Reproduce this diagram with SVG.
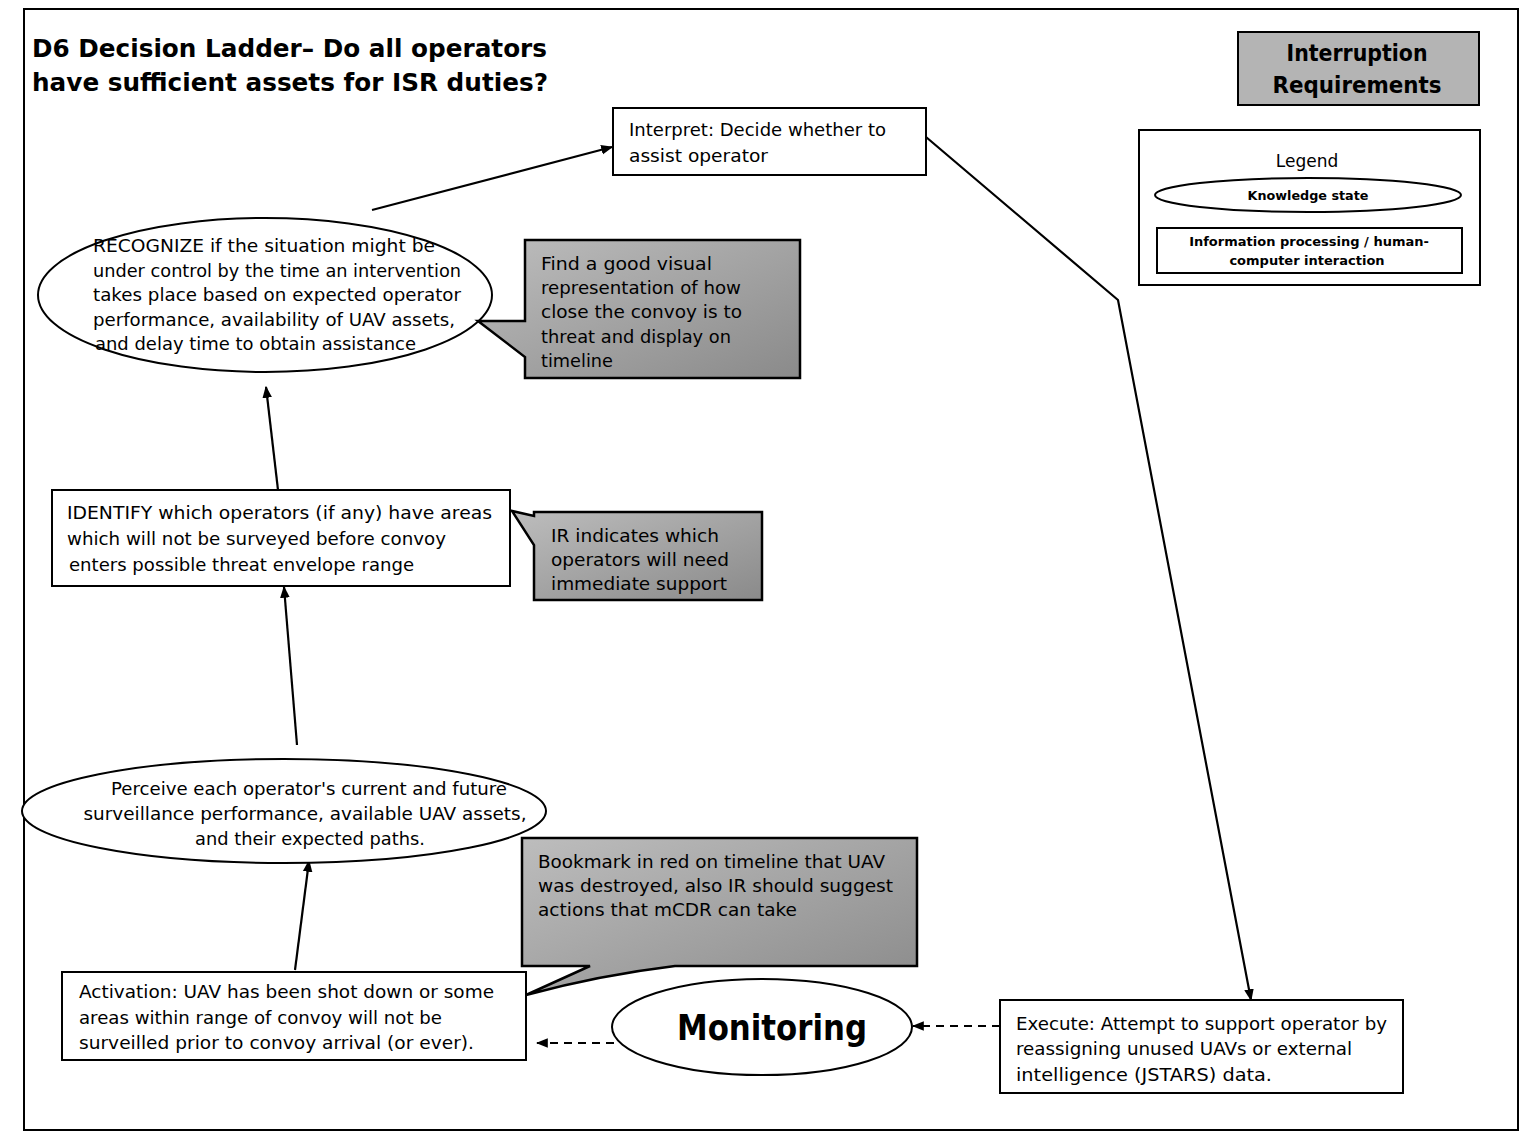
<svg xmlns="http://www.w3.org/2000/svg" width="1529" height="1134" viewBox="0 0 1529 1134">
<defs>
<linearGradient id="shade" x1="0" y1="0" x2="1" y2="1">
<stop offset="0" stop-color="#bdbdbd"/>
<stop offset="1" stop-color="#8a8a8a"/>
</linearGradient>
<marker id="arrL" viewBox="0 0 10 10" refX="9" refY="5" markerWidth="12" markerHeight="12" markerUnits="userSpaceOnUse" orient="auto">
<path d="M0,1 L10,5 L0,9 z" fill="#000"/>
</marker>
<style>
.box{fill:#fff;stroke:#000;stroke-width:2}
.call{fill:url(#shade);stroke:#000;stroke-width:2.5}
.t{font-family:"DejaVu Sans","Liberation Sans",sans-serif;font-size:17px;fill:#000}
.tc{text-anchor:middle}
.title{font-family:"DejaVu Sans","Liberation Sans",sans-serif;font-size:25px;font-weight:bold;fill:#000}
.bold{font-family:"DejaVu Sans","Liberation Sans",sans-serif;font-weight:bold;fill:#000}
.edge{stroke:#000;stroke-width:2.2;fill:none;marker-end:url(#arrL)}
.dash{stroke:#000;stroke-width:2;fill:none;stroke-dasharray:8,6;marker-end:url(#arrL)}
</style>
</defs>
<rect width="1529" height="1134" fill="#fff"/>
<rect x="24" y="9" width="1494" height="1121" fill="none" stroke="#000" stroke-width="2"/>

<g id="title">
<text class="title" x="32" y="57" textLength="515" lengthAdjust="spacingAndGlyphs">D6 Decision Ladder– Do all operators</text>
<text class="title" x="32" y="91" textLength="516" lengthAdjust="spacingAndGlyphs">have sufficient assets for ISR duties?</text>
</g>

<g id="interruption-requirements">
<rect x="1238" y="32" width="241" height="73" fill="#b4b4b4" stroke="#000" stroke-width="2"/>
<text class="bold tc" x="1357" y="61" font-size="23" textLength="141" lengthAdjust="spacingAndGlyphs">Interruption</text>
<text class="bold tc" x="1357" y="93" font-size="23" textLength="169" lengthAdjust="spacingAndGlyphs">Requirements</text>
</g>

<g id="legend">
<rect x="1139" y="130" width="341" height="155" fill="#fff" stroke="#000" stroke-width="2"/>
<text class="t tc" x="1307" y="167" font-size="20">Legend</text>
<ellipse cx="1308" cy="195" rx="153" ry="17" class="box"/>
<text class="bold tc" x="1308" y="200" font-size="13" textLength="121" lengthAdjust="spacingAndGlyphs">Knowledge state</text>
<rect x="1157" y="228" width="305" height="45" class="box"/>
<text class="bold tc" x="1309" y="246" font-size="13">Information processing / human-</text>
<text class="bold tc" x="1307" y="265" font-size="13">computer interaction</text>
</g>

<g id="connectors">
<line class="edge" x1="295" y1="970" x2="309" y2="861"/>
<line class="edge" x1="297" y1="745" x2="284" y2="587"/>
<line class="edge" x1="278" y1="490" x2="266" y2="387"/>
<line class="edge" x1="372" y1="210" x2="612" y2="147"/>
<polyline class="edge" points="926,137 1118,300 1251,1000"/>
<line class="dash" x1="1000" y1="1026" x2="913" y2="1026"/>
<line class="dash" x1="614" y1="1043" x2="537" y2="1043"/>
</g>

<g id="interpret">
<rect x="613" y="108" width="313" height="67" class="box"/>
<text class="t" x="629" y="136" textLength="257" lengthAdjust="spacingAndGlyphs">Interpret: Decide whether to</text>
<text class="t" x="629" y="162" textLength="139" lengthAdjust="spacingAndGlyphs">assist operator</text>
</g>

<g id="recognize">
<ellipse cx="265" cy="295" rx="227" ry="77" class="box"/>
<text class="t" x="93" y="252" textLength="342" lengthAdjust="spacingAndGlyphs">RECOGNIZE if the situation might be</text>
<text class="t" x="93" y="277" textLength="368" lengthAdjust="spacingAndGlyphs">under control by the time an intervention</text>
<text class="t" x="93" y="301" textLength="368" lengthAdjust="spacingAndGlyphs">takes place based on expected operator</text>
<text class="t" x="93" y="326" textLength="362" lengthAdjust="spacingAndGlyphs">performance, availability of UAV assets,</text>
<text class="t" x="95" y="350" textLength="321" lengthAdjust="spacingAndGlyphs">and delay time to obtain assistance</text>
</g>

<g id="callout-visual">
<path class="call" d="M525,240 H800 V378 H525 V357 L478,321 H525 Z"/>
<text class="t" x="541" y="270" textLength="171" lengthAdjust="spacingAndGlyphs">Find a good visual</text>
<text class="t" x="541" y="294" textLength="200" lengthAdjust="spacingAndGlyphs">representation of how</text>
<text class="t" x="541" y="318" textLength="201" lengthAdjust="spacingAndGlyphs">close the convoy is to</text>
<text class="t" x="541" y="343" textLength="190" lengthAdjust="spacingAndGlyphs">threat and display on</text>
<text class="t" x="541" y="367" textLength="72" lengthAdjust="spacingAndGlyphs">timeline</text>
</g>

<g id="identify">
<rect x="52" y="490" width="458" height="96" class="box"/>
<text class="t" x="67" y="519" textLength="425" lengthAdjust="spacingAndGlyphs">IDENTIFY which operators (if any) have areas</text>
<text class="t" x="67" y="545" textLength="379" lengthAdjust="spacingAndGlyphs">which will not be surveyed before convoy</text>
<text class="t" x="69" y="571" textLength="345" lengthAdjust="spacingAndGlyphs">enters possible threat envelope range</text>
</g>

<g id="callout-ir">
<path class="call" d="M534,512 H762 V600 H534 V545 L512,511 L534,516 Z"/>
<text class="t" x="551" y="542" textLength="168" lengthAdjust="spacingAndGlyphs">IR indicates which</text>
<text class="t" x="551" y="566" textLength="178" lengthAdjust="spacingAndGlyphs">operators will need</text>
<text class="t" x="551" y="590" textLength="176" lengthAdjust="spacingAndGlyphs">immediate support</text>
</g>

<g id="perceive">
<ellipse cx="284" cy="811" rx="262" ry="52" class="box"/>
<text class="t tc" x="309" y="795" textLength="396" lengthAdjust="spacingAndGlyphs">Perceive each operator's current and future</text>
<text class="t tc" x="305" y="820" textLength="443" lengthAdjust="spacingAndGlyphs">surveillance performance, available UAV assets,</text>
<text class="t tc" x="310" y="845" textLength="230" lengthAdjust="spacingAndGlyphs">and their expected paths.</text>
</g>

<g id="activation">
<rect x="62" y="972" width="464" height="88" class="box"/>
<text class="t" x="79" y="998" textLength="415" lengthAdjust="spacingAndGlyphs">Activation: UAV has been shot down or some</text>
<text class="t" x="79" y="1024" textLength="363" lengthAdjust="spacingAndGlyphs">areas within range of convoy will not be</text>
<text class="t" x="79" y="1049" textLength="395" lengthAdjust="spacingAndGlyphs">surveilled prior to convoy arrival (or ever).</text>
</g>

<g id="callout-bookmark">
<path class="call" d="M522,838 H917 V966 H675 Q600,975 526,995 L590,966 H522 Z"/>
<text class="t" x="538" y="868" textLength="347" lengthAdjust="spacingAndGlyphs">Bookmark in red on timeline that UAV</text>
<text class="t" x="538" y="892" textLength="355" lengthAdjust="spacingAndGlyphs">was destroyed, also IR should suggest</text>
<text class="t" x="538" y="916" textLength="259" lengthAdjust="spacingAndGlyphs">actions that mCDR can take</text>
</g>

<g id="monitoring">
<ellipse cx="762" cy="1027" rx="150" ry="48" class="box"/>
<text class="bold tc" x="772" y="1040" font-size="36" textLength="190" lengthAdjust="spacingAndGlyphs">Monitoring</text>
</g>

<g id="execute">
<rect x="1000" y="1000" width="403" height="93" class="box"/>
<text class="t" x="1016" y="1030" textLength="371" lengthAdjust="spacingAndGlyphs">Execute: Attempt to support operator by</text>
<text class="t" x="1016" y="1055" textLength="336" lengthAdjust="spacingAndGlyphs">reassigning unused UAVs or external</text>
<text class="t" x="1016" y="1081" textLength="256" lengthAdjust="spacingAndGlyphs">intelligence (JSTARS) data.</text>
</g>
</svg>
